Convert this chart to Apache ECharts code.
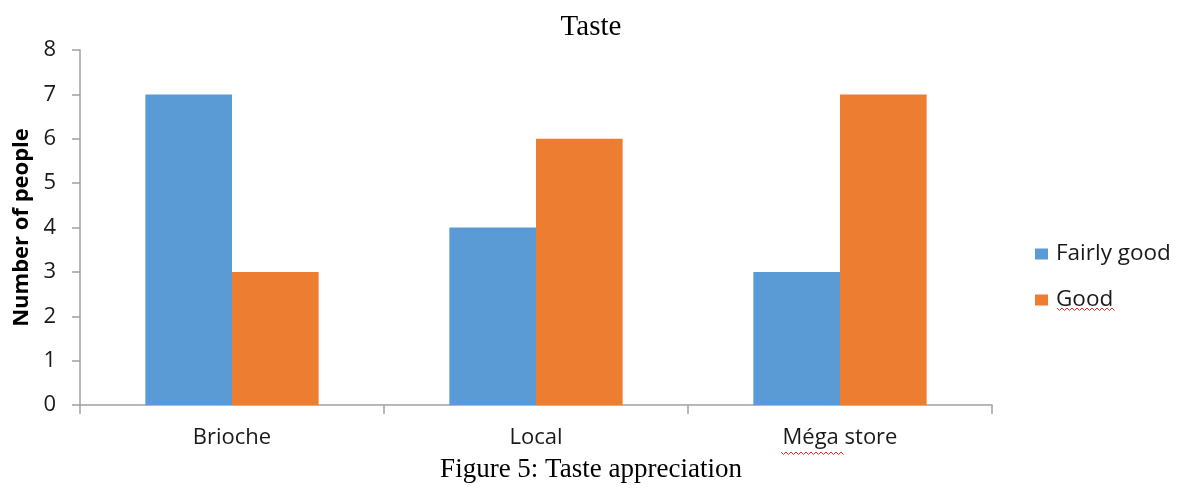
<!DOCTYPE html>
<html>
<head>
<meta charset="utf-8">
<style>
  html, body { margin: 0; padding: 0; background: #ffffff; }
  #chart { width: 1187px; height: 488px; }
</style>
<script src="https://cdn.jsdelivr.net/npm/echarts@6/dist/echarts.min.js"></script>
</head>
<body>
<div id="chart"></div>
<script>
// Taste ratings per bakery
const categories = ['Brioche', 'Local', 'Méga store'];
const fairlyGood = [7, 4, 3];
const good = [3, 6, 7];
const seriesNames = ['Fairly good', 'Good'];

const labelFont = '"Open Sans", "Noto Sans", sans-serif';
const serifFont = '"Liberation Serif", "DejaVu Serif", serif';
const axisGrey = '#a0a0a0';

// Wavy spell-check underline under a word
function squiggle(x0, x1, y) {
  const pts = [];
  let up = true;
  for (let x = x0; x <= x1; x += 2.5) {
    pts.push([x, up ? y : y + 2.5]);
    up = !up;
  }
  return {
    type: 'polyline',
    shape: { points: pts },
    style: { stroke: '#e0302a', lineWidth: 1, fill: null },
    silent: true
  };
}

const chart = echarts.init(document.getElementById('chart'), null, { renderer: 'canvas' });
chart.setOption({
  animation: false,
  backgroundColor: '#ffffff',
  title: [
    {
      text: 'Taste',
      left: 586, top: 8, textAlign: 'center',
      textStyle: { fontFamily: serifFont, fontSize: 29, fontWeight: 'normal', color: '#000' }
    },
    {
      text: 'Figure 5: Taste appreciation',
      left: 586, top: 451, textAlign: 'center',
      textStyle: { fontFamily: serifFont, fontSize: 27, fontWeight: 'normal', color: '#000' }
    }
  ],
  legend: {
    orient: 'vertical',
    left: 1035, top: 241,
    padding: 0,
    itemWidth: 13, itemHeight: 11,
    itemGap: 20,
    itemStyle: { borderWidth: 0 },
    icon: 'rect',
    data: seriesNames,
    textStyle: { fontFamily: labelFont, fontSize: 22.5, color: '#1a1a1a', lineHeight: 26, padding: [0, 0, 0, 3] }
  },
  grid: { left: 80, right: 195, top: 50, bottom: 83, outerBoundsMode: 'none', containLabel: false },
  xAxis: {
    type: 'category',
    data: categories,
    axisLine: { lineStyle: { color: axisGrey, width: 1.5 } },
    axisTick: { show: true, length: 9, lineStyle: { color: axisGrey, width: 1.5 } },
    axisLabel: { margin: 22, fontFamily: labelFont, fontSize: 22, color: '#1a1a1a' },
    splitLine: { show: false }
  },
  yAxis: {
    type: 'value',
    min: 0, max: 8, interval: 1,
    name: 'Number of people',
    nameLocation: 'middle',
    nameGap: 47,
    nameRotate: 90,
    nameTextStyle: { fontFamily: labelFont, fontSize: 22, fontWeight: 'bold', color: '#000' },
    axisLine: { show: true, lineStyle: { color: axisGrey, width: 1.5 } },
    axisTick: { show: true, length: 8, lineStyle: { color: axisGrey, width: 1.5 } },
    axisLabel: { margin: 24, fontFamily: labelFont, fontSize: 22, color: '#1a1a1a' },
    splitLine: { show: false }
  },
  series: [
    {
      name: seriesNames[0], type: 'bar', data: fairlyGood,
      itemStyle: { color: '#5b9bd5' },
      barGap: '0%', barCategoryGap: '43%'
    },
    {
      name: seriesNames[1], type: 'bar', data: good,
      itemStyle: { color: '#ed7d31' },
      barGap: '0%', barCategoryGap: '43%'
    }
  ],
  graphic: [
    squiggle(1057, 1116, 308),
    squiggle(781, 845, 452)
  ]
});
</script>
</body>
</html>
